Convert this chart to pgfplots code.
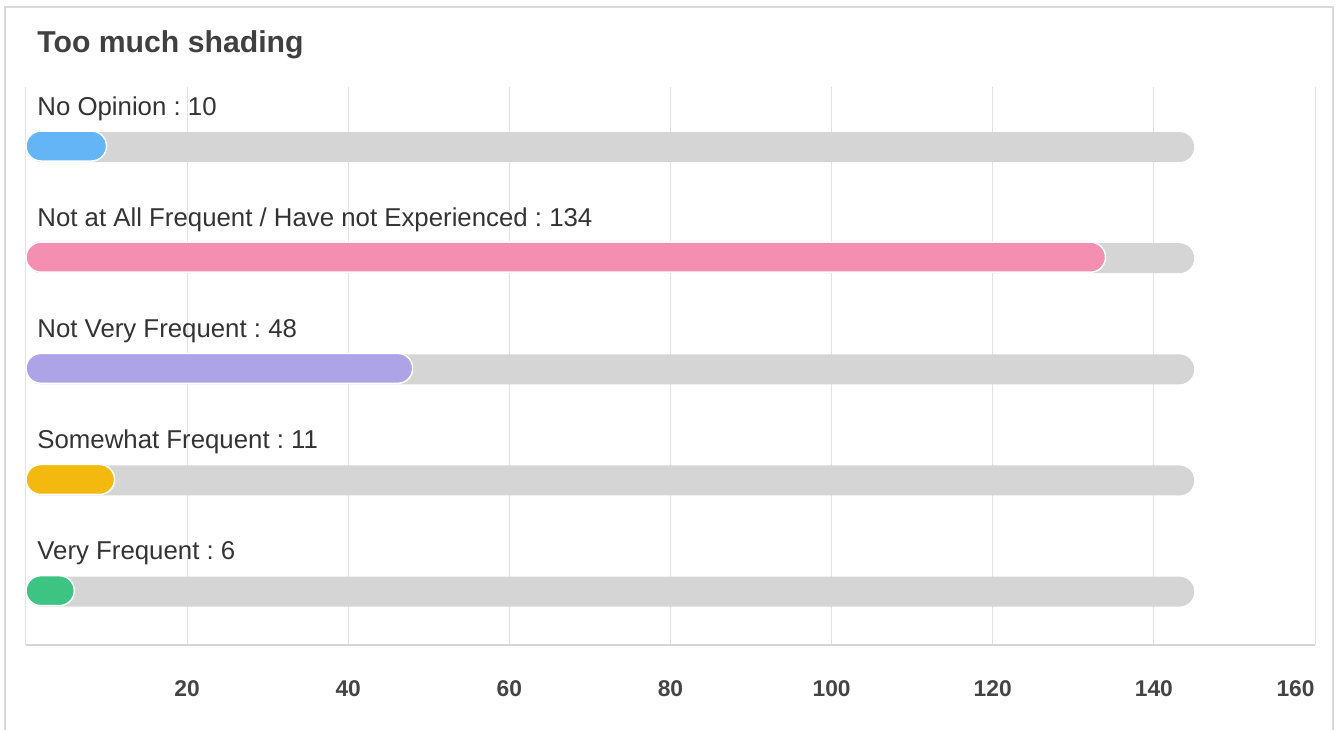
\documentclass[border=0pt]{standalone}
\usepackage{fontspec}
\setmainfont{Liberation Sans}
\usepackage{pgfplots}
\pgfplotsset{compat=1.18}
\frenchspacing
\definecolor{framegray}{HTML}{D9D9D9}
\definecolor{gridgray}{HTML}{E2E2E2}
\definecolor{axisgray}{HTML}{D5D5D5}
\definecolor{trackgray}{HTML}{D5D5D5}
\definecolor{titlegray}{HTML}{404040}
\definecolor{labelgray}{HTML}{333333}
\definecolor{tickgray}{HTML}{444444}
\definecolor{cblue}{HTML}{64B5F6}
\definecolor{cpink}{HTML}{F48FB1}
\definecolor{cpurple}{HTML}{ACA4E6}
\definecolor{cyellow}{HTML}{F4B90F}
\definecolor{cgreen}{HTML}{3EC482}
\begin{document}
\begin{tikzpicture}
\useasboundingbox (0,0) rectangle (670pt,364.5pt);
\draw[framegray, line width=1pt] (2.5pt,-2pt) -- (2.5pt,361pt) -- (666.5pt,361pt) -- (666.5pt,-2pt);
\node[anchor=base west, inner sep=0, text=titlegray, font=\fontsize{15.1}{18}\selectfont\bfseries] at (18.5pt,338pt) {Too much shading};
\begin{axis}[
    at={(13pt,42pt)}, anchor=south west,
    width=644.5pt, height=279pt, scale only axis,
    xmin=0, xmax=160, ymin=-0.54, ymax=4.48, y dir=reverse,
    axis x line*=bottom, axis y line=none,
    x axis line style={-, draw=axisgray, line width=0.9pt},
    xtick={0,20,...,140},
    xticklabels={,20,40,60,80,100,120,140},
    extra x ticks={160}, extra x tick labels={160},
    extra x tick style={xmajorgrids=true, xticklabel style={anchor=base east}},
    xmajorgrids=true,
    major grid style={draw=gridgray, line width=0.5pt},
    major tick length=0pt,
    xticklabel style={anchor=base, inner sep=0pt, yshift=-25.5pt, text=tickgray,
      font=\fontsize{11.4}{13}\selectfont\bfseries},
    xbar, bar width=15pt,
    clip=false,
  ]
% grey tracks
\addplot[xbar, bar shift=0pt, fill=trackgray, draw=none, rounded corners=7.5pt]
  coordinates {(145,0) (145,1) (145,2) (145,3) (145,4)};
% values
\addplot[xbar, bar shift=0.5pt, fill=cblue, draw=white, line width=0.75pt, rounded corners=7.5pt]
  coordinates {(10,0)};
\addplot[xbar, bar shift=0.5pt, fill=cpink, draw=white, line width=0.75pt, rounded corners=7.5pt]
  coordinates {(134,1)};
\addplot[xbar, bar shift=0.5pt, fill=cpurple, draw=white, line width=0.75pt, rounded corners=7.5pt]
  coordinates {(48,2)};
\addplot[xbar, bar shift=0.5pt, fill=cyellow, draw=white, line width=0.75pt, rounded corners=7.5pt]
  coordinates {(11,3)};
\addplot[xbar, bar shift=0.5pt, fill=cgreen, draw=white, line width=0.75pt, rounded corners=7.5pt]
  coordinates {(6,4)};
\begin{scope}[every node/.style={anchor=base west, inner sep=0pt, xshift=5.5pt, yshift=16pt,
    text=labelgray, font=\fontsize{12.9}{15}\selectfont}]
\node at (axis cs:0,0) {No Opinion : 10};
\node at (axis cs:0,1) {Not at All Frequent / Have not Experienced : 134};
\node at (axis cs:0,2) {Not Very Frequent : 48};
\node at (axis cs:0,3) {Somewhat Frequent : 11};
\node at (axis cs:0,4) {Very Frequent : 6};
\end{scope}
\end{axis}
\end{tikzpicture}
\end{document}
